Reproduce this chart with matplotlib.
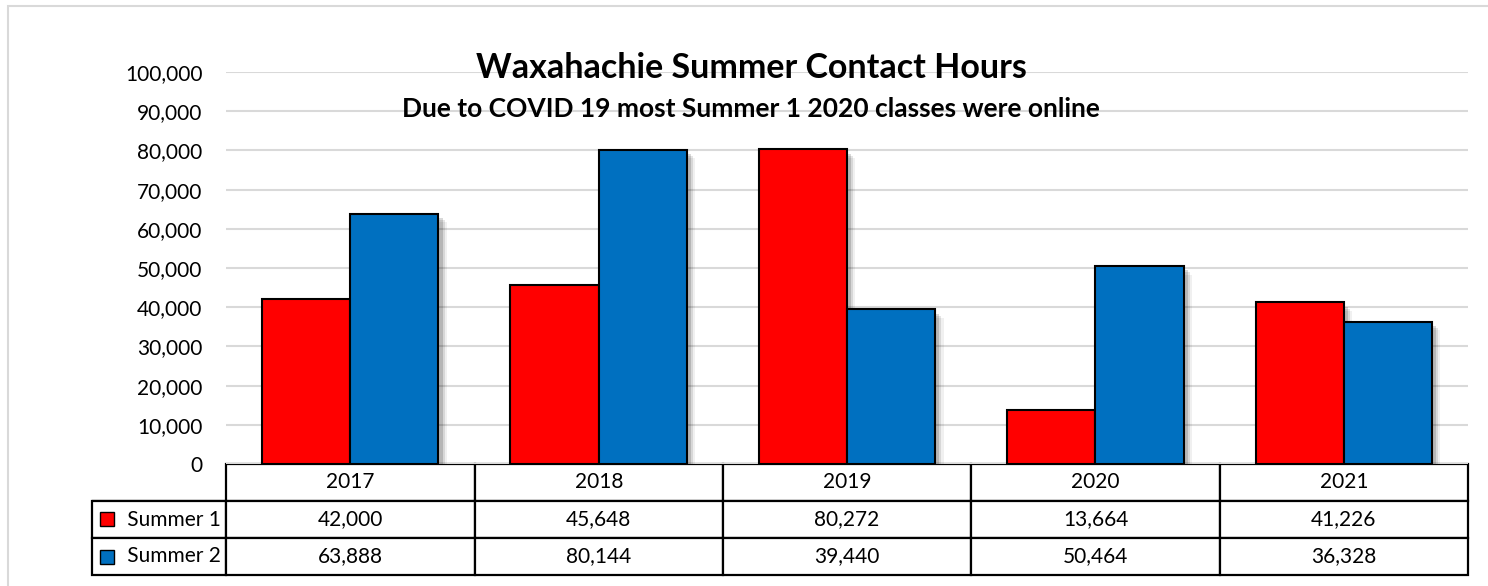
import matplotlib.pyplot as plt
import matplotlib.patheffects as pe
from matplotlib.patches import Rectangle
import numpy as np

years = ["2017", "2018", "2019", "2020", "2021"]
summer1 = [42000, 45648, 80272, 13664, 41226]
summer2 = [63888, 80144, 39440, 50464, 36328]
series_names = ["Summer 1", "Summer 2"]
colors = ["#FF0000", "#0070C0"]

plt.rcParams['font.family'] = ['Lato', 'DejaVu Sans']

W, H = 1488, 586
fig = plt.figure(figsize=(W / 100, H / 100), dpi=100)

# outer chart border (only left/top edges are in view)
fig.patches.append(Rectangle((8 / W, -0.2), 1.2, 1.2 - 6 / H, transform=fig.transFigure,
                             fill=False, edgecolor="#d9d9d9", linewidth=1.5))

# plot area in pixel terms
left, right, top, bottom = 226, 1468, 72, 464
ax = fig.add_axes([left / W, 1 - bottom / H, (right - left) / W, (bottom - top) / H])

x = np.arange(len(years))
bw = 0.355
shadow = [pe.SimplePatchShadow(offset=(6, -6), shadow_rgbFace="k", alpha=0.06),
          pe.SimplePatchShadow(offset=(4.5, -4.5), shadow_rgbFace="k", alpha=0.1),
          pe.SimplePatchShadow(offset=(3, -3), shadow_rgbFace="k", alpha=0.15),
          pe.Normal()]
for vals, off, c in [(summer1, -bw / 2, colors[0]), (summer2, bw / 2, colors[1])]:
    bars = ax.bar(x + off, vals, bw, color=c, edgecolor="black", linewidth=1.5, zorder=3)
    for b in bars:
        b.set_path_effects(shadow)

ax.set_xlim(-0.5, len(years) - 0.5)
ax.set_ylim(0, 100000)
ax.set_yticks(np.arange(0, 100001, 10000))
ax.set_yticklabels([f"{v:,}" for v in range(0, 100001, 10000)], fontsize=15)
ax.tick_params(axis="y", length=0, pad=17)
ax.set_xticks([])
for s in ax.spines.values():
    s.set_visible(False)
ax.grid(axis="y", color="#d9d9d9", linewidth=1.5, zorder=0)
ax.set_axisbelow(True)

# data table under the plot (first column holds the series names)
axw, axh = right - left, bottom - top
tx0, tyb = 92, 575
cell_text = [["      " + name] + [f"{v:,}" for v in vals]
             for name, vals in zip(series_names, [summer1, summer2])]
widths = [134] + [248] * len(years)
tbl = ax.table(cellText=cell_text, colLabels=[""] + years, cellLoc="center",
               colWidths=[w / sum(widths) for w in widths],
               bbox=[(tx0 - left) / axw, -(tyb - bottom) / axh, (right - tx0) / axw, (tyb - bottom) / axh])
tbl.auto_set_font_size(False)
tbl.set_fontsize(15)
for (r, c), cell in tbl.get_celld().items():
    cell.set_linewidth(1.6)
    if c == 0:
        cell.get_text().set_ha("left")
        cell.PAD = 0.02
tbl[0, 0].visible_edges = "B"

# legend keys in the row labels
for i, c in enumerate(colors):
    ax.plot([(107 - left) / axw], [-(519 + 38 * i - bottom) / axh], marker="s", markersize=9.5,
            color=c, markeredgecolor="black", markeredgewidth=1,
            transform=ax.transAxes, clip_on=False, zorder=5)

fig.text(751 / W, 1 - 68 / H, "Waxahachie Summer Contact Hours", ha="center", va="center",
         fontsize=24.5, fontweight="bold")
fig.text(751 / W, 1 - 109 / H, "Due to COVID 19 most Summer 1 2020 classes were online",
         ha="center", va="center", fontsize=19, fontweight="bold")

fig.savefig("out.png", dpi=100)
